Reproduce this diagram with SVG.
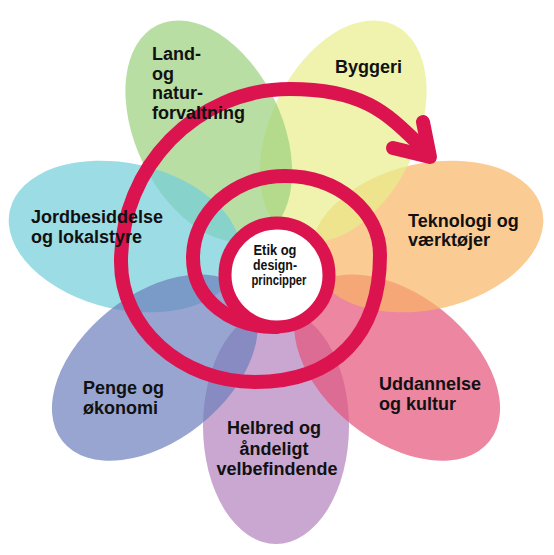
<svg xmlns="http://www.w3.org/2000/svg" width="554" height="555" viewBox="0 0 554 555">
<style>
.petal{fill-opacity:0.7}
.lbl{font-family:"Liberation Sans",Arial,sans-serif;font-weight:bold;font-size:18px;fill:#111}
.ctr{font-family:"Liberation Sans",Arial,sans-serif;font-weight:bold;font-size:14.5px;fill:#111;text-anchor:middle}
.red{fill:none;stroke:#db1450;stroke-width:14;stroke-linecap:round;stroke-linejoin:round}
</style>
<defs>
<ellipse id="pet" cx="431" cy="271" rx="118" ry="73"/>
</defs>
<rect width="554" height="555" fill="#fff"/>
<g id="petals">
<g id="node-helbred"><use href="#pet" class="petal" fill="#b281bd" transform="rotate(90 276 271)"/></g>
<g id="node-uddannelse"><use href="#pet" class="petal" fill="#e45279" transform="rotate(38.57 276 271)"/></g>
<g id="node-teknologi"><use href="#pet" class="petal" fill="#f9b566" transform="rotate(347.14 276 271)"/></g>
<g id="node-byggeri"><use href="#pet" class="petal" fill="#e8ee8a" transform="rotate(295.71 276 271)"/></g>
<g id="node-land"><use href="#pet" class="petal" fill="#9bd07c" transform="rotate(244.29 276 271)"/></g>
<g id="node-jord"><use href="#pet" class="petal" fill="#72cdda" transform="rotate(192.86 276 271)"/></g>
<g id="node-penge"><use href="#pet" class="petal" fill="#6c7fbc" transform="rotate(141.43 276 271)"/></g>
</g>
<g id="connectors">
<path class="red" d="M277,327 C232,328 193,300 193,258 C193,212.7 234.2,176 285,176 C337.5,176 380,211.4 380,255 C380,335 335,382 255,382 C181,382 121,327.7 121,262 C121,166.5 196.7,89 290,89 C370,89 391,118 428,153"/>
<path class="red" d="M423,122 L430,157 L393,148"/>
</g>
<g id="node-center">
<circle cx="277" cy="275" r="52" fill="#fff" stroke="#db1450" stroke-width="13"/>
<text class="ctr" x="275" y="255" textLength="43" lengthAdjust="spacingAndGlyphs">Etik og</text>
<text class="ctr" x="275" y="270" textLength="44" lengthAdjust="spacingAndGlyphs">design-</text>
<text class="ctr" x="279" y="285" textLength="55" lengthAdjust="spacingAndGlyphs">principper</text>
</g>
<g id="labels">
<g id="label-land"><text class="lbl" x="152" y="60">Land-</text><text class="lbl" x="152" y="80">og</text><text class="lbl" x="152" y="99">natur-</text><text class="lbl" x="152" y="119">forvaltning</text></g>
<g id="label-byggeri"><text class="lbl" x="335" y="73">Byggeri</text></g>
<g id="label-jord"><text class="lbl" x="31" y="223">Jordbesiddelse</text><text class="lbl" x="31" y="243">og lokalstyre</text></g>
<g id="label-teknologi"><text class="lbl" x="408" y="227">Teknologi og</text><text class="lbl" x="408" y="246">værktøjer</text></g>
<g id="label-penge"><text class="lbl" x="83" y="394">Penge og</text><text class="lbl" x="83" y="414">økonomi</text></g>
<g id="label-uddannelse"><text class="lbl" x="379" y="390">Uddannelse</text><text class="lbl" x="379" y="410">og kultur</text></g>
<g id="label-helbred" style="text-anchor:middle"><text class="lbl" x="274" y="434">Helbred og</text><text class="lbl" x="274" y="455">åndeligt</text><text class="lbl" x="277" y="475">velbefindende</text></g>
</g>
</svg>
